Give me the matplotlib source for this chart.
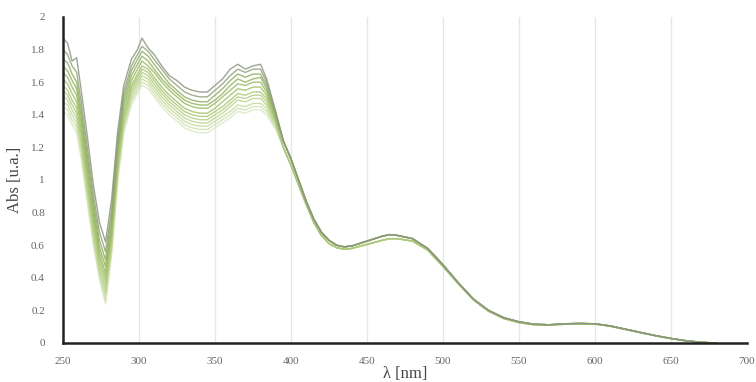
import matplotlib
matplotlib.use("Agg")
import matplotlib.pyplot as plt

# wavelength grid where the spectra differ from each other
wl_head = [250, 253, 256, 259, 262, 266, 270, 274, 278, 282, 286, 290, 295, 299, 302,
           306, 310, 315, 320, 325, 330, 335, 340, 345, 350, 355, 360, 365, 370, 375,
           380, 384, 390]

# one list per spectrum, darkest (first) to lightest (last)
abs_1 = [1.87, 1.84, 1.73, 1.75, 1.55, 1.27, 0.97, 0.74, 0.62, 0.88, 1.30, 1.58, 1.74, 1.80, 1.87,
         1.81, 1.77, 1.70, 1.64, 1.61, 1.57, 1.55, 1.54, 1.54, 1.58, 1.62, 1.68, 1.71, 1.68, 1.70,
         1.71, 1.62, 1.42]
abs_2 = [1.80, 1.77, 1.70, 1.66, 1.48, 1.20, 0.91, 0.68, 0.56, 0.82, 1.25, 1.54, 1.70, 1.77, 1.82,
         1.79, 1.74, 1.68, 1.62, 1.58, 1.54, 1.52, 1.51, 1.51, 1.55, 1.59, 1.64, 1.68, 1.66, 1.68,
         1.68, 1.60, 1.41]
abs_3 = [1.74, 1.72, 1.65, 1.60, 1.43, 1.15, 0.87, 0.63, 0.51, 0.78, 1.22, 1.51, 1.67, 1.74, 1.79,
         1.76, 1.71, 1.65, 1.59, 1.55, 1.51, 1.49, 1.48, 1.48, 1.52, 1.56, 1.61, 1.65, 1.63, 1.65,
         1.65, 1.58, 1.40]
abs_4 = [1.70, 1.67, 1.61, 1.56, 1.39, 1.11, 0.83, 0.59, 0.47, 0.74, 1.19, 1.48, 1.64, 1.71, 1.76,
         1.73, 1.68, 1.62, 1.57, 1.53, 1.49, 1.47, 1.46, 1.46, 1.49, 1.53, 1.58, 1.62, 1.60, 1.62,
         1.63, 1.56, 1.39]
abs_5 = [1.66, 1.63, 1.57, 1.52, 1.35, 1.07, 0.79, 0.56, 0.43, 0.71, 1.16, 1.45, 1.61, 1.68, 1.73,
         1.70, 1.66, 1.60, 1.55, 1.51, 1.47, 1.45, 1.44, 1.44, 1.47, 1.51, 1.55, 1.59, 1.58, 1.60,
         1.60, 1.54, 1.38]
abs_6 = [1.62, 1.59, 1.53, 1.48, 1.31, 1.03, 0.76, 0.53, 0.40, 0.68, 1.13, 1.42, 1.58, 1.65, 1.70,
         1.68, 1.63, 1.57, 1.52, 1.48, 1.44, 1.42, 1.41, 1.41, 1.44, 1.48, 1.52, 1.56, 1.55, 1.57,
         1.57, 1.52, 1.37]
abs_7 = [1.58, 1.55, 1.49, 1.44, 1.28, 1.00, 0.73, 0.50, 0.37, 0.65, 1.10, 1.39, 1.56, 1.63, 1.68,
         1.66, 1.61, 1.55, 1.50, 1.46, 1.42, 1.40, 1.39, 1.39, 1.42, 1.45, 1.49, 1.53, 1.52, 1.54,
         1.54, 1.50, 1.36]
abs_8 = [1.55, 1.52, 1.46, 1.41, 1.25, 0.97, 0.70, 0.47, 0.34, 0.62, 1.07, 1.37, 1.54, 1.61, 1.66,
         1.64, 1.59, 1.53, 1.48, 1.44, 1.40, 1.38, 1.37, 1.37, 1.40, 1.43, 1.47, 1.51, 1.50, 1.52,
         1.52, 1.48, 1.35]
abs_9 = [1.52, 1.49, 1.43, 1.38, 1.22, 0.94, 0.67, 0.45, 0.31, 0.60, 1.05, 1.35, 1.52, 1.59, 1.64,
         1.62, 1.57, 1.51, 1.46, 1.42, 1.38, 1.36, 1.35, 1.35, 1.38, 1.41, 1.45, 1.49, 1.48, 1.50,
         1.50, 1.46, 1.34]
abs_10 = [1.48, 1.46, 1.40, 1.35, 1.19, 0.92, 0.65, 0.43, 0.29, 0.58, 1.03, 1.33, 1.50, 1.57, 1.62,
          1.60, 1.55, 1.49, 1.44, 1.40, 1.36, 1.34, 1.33, 1.33, 1.36, 1.39, 1.42, 1.46, 1.45, 1.47,
          1.47, 1.44, 1.33]
abs_11 = [1.45, 1.43, 1.37, 1.32, 1.16, 0.89, 0.62, 0.41, 0.26, 0.56, 1.01, 1.31, 1.48, 1.55, 1.60,
          1.58, 1.53, 1.47, 1.42, 1.38, 1.34, 1.32, 1.31, 1.31, 1.34, 1.37, 1.40, 1.44, 1.43, 1.45,
          1.45, 1.42, 1.32]
abs_12 = [1.42, 1.40, 1.34, 1.29, 1.13, 0.86, 0.60, 0.39, 0.24, 0.54, 0.99, 1.29, 1.46, 1.53, 1.58,
          1.56, 1.51, 1.45, 1.40, 1.36, 1.32, 1.30, 1.29, 1.29, 1.32, 1.35, 1.38, 1.42, 1.41, 1.43,
          1.43, 1.40, 1.31]

# beyond 390 nm the spectra nearly overlap: darker and lighter group
wl_tail = [395, 400, 405, 410, 415, 420, 425, 430, 435, 440, 450, 460, 465, 470, 480, 490, 500,
           510, 520, 530, 540, 550, 560, 570, 580, 590, 600, 610, 620, 630, 640, 650, 660, 670, 680]
tail_dark = [1.24, 1.13, 1.00, 0.87, 0.76, 0.68, 0.63, 0.60, 0.59, 0.595, 0.625, 0.655, 0.665, 0.66,
             0.64, 0.58, 0.48, 0.37, 0.27, 0.20, 0.155, 0.13, 0.115, 0.112, 0.118, 0.12, 0.118,
             0.105, 0.085, 0.065, 0.045, 0.028, 0.014, 0.004, 0.0]
tail_light = [1.20, 1.09, 0.97, 0.85, 0.74, 0.66, 0.61, 0.585, 0.575, 0.58, 0.605, 0.63, 0.64, 0.64,
              0.625, 0.57, 0.47, 0.365, 0.265, 0.195, 0.15, 0.125, 0.112, 0.11, 0.115, 0.118, 0.116,
              0.103, 0.083, 0.063, 0.044, 0.027, 0.013, 0.004, 0.0]

spectra = [abs_1, abs_2, abs_3, abs_4, abs_5, abs_6, abs_7, abs_8, abs_9, abs_10, abs_11, abs_12]
line_colors = ["#8d9682", "#93a27a", "#8fae62", "#92b45e", "#98bb60", "#a0c266",
               "#a9c872", "#b3ce80", "#bdd48e", "#c7da9e", "#d1e1b0", "#dbe8c4"]

x_ticks = [250, 300, 350, 400, 450, 500, 550, 600, 650, 700]
y_ticks = [0, 0.2, 0.4, 0.6, 0.8, 1, 1.2, 1.4, 1.6, 1.8, 2]
y_tick_labels = ["0", "0.2", "0.4", "0.6", "0.8", "1", "1.2", "1.4", "1.6", "1.8", "2"]

plt.rcParams["font.family"] = ["Liberation Serif", "DejaVu Serif"]

fig = plt.figure(figsize=(7.56, 3.82), dpi=100)
ax = fig.add_axes([0.0833, 0.1021, 0.9047, 0.8534])

for xv in x_ticks[1:-1]:
    ax.axvline(xv, color="#e6e6e6", lw=0.9, zorder=0)

# draw lightest first so the darker ones sit on top
for i in range(len(spectra) - 1, -1, -1):
    tail = tail_dark if i < 6 else tail_light
    ax.plot(wl_head + wl_tail, spectra[i] + tail, color=line_colors[i], lw=1.0, alpha=0.85,
            solid_joinstyle="round", zorder=2)

ax.set_xlim(250, 700)
ax.set_ylim(0, 2)
ax.set_xticks(x_ticks)
ax.set_yticks(y_ticks)
ax.set_yticklabels(y_tick_labels)
ax.tick_params(length=0, labelsize=8, labelcolor="#666666")
ax.tick_params(axis="x", pad=10)
ax.tick_params(axis="y", pad=13)

for side in ["top", "right"]:
    ax.spines[side].set_visible(False)
for side in ["left", "bottom"]:
    ax.spines[side].set_color("#222222")
    ax.spines[side].set_linewidth(1.8)
    ax.spines[side].set_zorder(3)

ax.set_ylabel("Abs [u.a.]", fontsize=12, color="#444444", labelpad=6)
ax.set_xlabel("λ [nm]", fontsize=12, color="#444444", labelpad=0)

fig.savefig("out.png", dpi=100)
